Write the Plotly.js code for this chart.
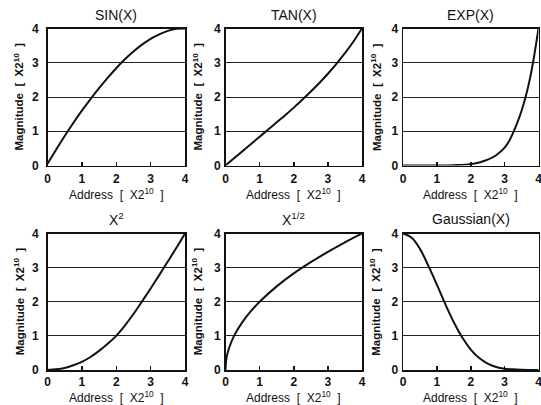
<!DOCTYPE html>
<html>
<head>
<meta charset="utf-8">
<script src="https://cdn.plot.ly/plotly-3.0.1.min.js"></script>
<style>html,body{margin:0;padding:0;background:#fff;}#chart{width:541px;height:405px;}</style>
</head>
<body>
<div id="chart"></div>
<script>
// Panel titles
const titles = ["SIN(X)", "TAN(X)", "EXP(X)", "X<sup>2</sup>", "X<sup>1/2</sup>", "Gaussian(X)"];
const xAxisTitle = "Address  [  X2<sup>10</sup>  ]";
const yAxisTitle = "Magnitude  [  X2<sup>10</sup>  ]";
const tickVals = [0, 1, 2, 3, 4];
const tickLabels = ["0", "1", "2", "3", "4"];

// Series values (address, magnitude), both in units of 2^10
const sinX = [0, 0.25, 0.5, 0.75, 1, 1.25, 1.5, 1.75, 2, 2.25, 2.5, 2.75, 3, 3.25, 3.5, 3.75, 4];
const sinY = [0.05, 0.46, 0.86, 1.24, 1.6, 1.94, 2.26, 2.56, 2.84, 3.1, 3.33, 3.53, 3.7, 3.83, 3.93, 3.99, 4.0];

const tanX = [0, 0.25, 0.5, 0.75, 1, 1.25, 1.5, 1.75, 2, 2.25, 2.5, 2.75, 3, 3.25, 3.5, 3.75, 4];
const tanY = [0, 0.21, 0.42, 0.63, 0.84, 1.05, 1.26, 1.47, 1.69, 1.92, 2.16, 2.41, 2.68, 2.97, 3.28, 3.62, 4.0];

const expX = [0, 0.5, 1, 1.5, 2, 2.25, 2.5, 2.75, 3, 3.125, 3.25, 3.375, 3.5, 3.625, 3.75, 3.875, 4];
const expY = [0, 0, 0, 0.01, 0.04, 0.09, 0.17, 0.3, 0.52, 0.7, 0.95, 1.25, 1.6, 2.02, 2.55, 3.22, 4.0];

const sqX = [0, 0.25, 0.5, 0.75, 1, 1.25, 1.5, 1.75, 2, 2.25, 2.5, 2.75, 3, 3.25, 3.5, 3.75, 4];
const sqY = [0, 0.02, 0.06, 0.14, 0.24, 0.38, 0.56, 0.77, 1.0, 1.3, 1.64, 2.01, 2.39, 2.78, 3.18, 3.58, 4.0];

const rtX = [0, 0.02, 0.05, 0.1, 0.25, 0.5, 0.75, 1, 1.5, 2, 2.5, 3, 3.5, 4];
const rtY = [0, 0.28, 0.45, 0.63, 1.0, 1.41, 1.73, 2.0, 2.45, 2.83, 3.16, 3.46, 3.74, 4.0];

const gaX = [0, 0.25, 0.5, 0.75, 1, 1.25, 1.5, 1.75, 2, 2.25, 2.5, 2.75, 3, 3.25, 3.5, 4];
const gaY = [4.0, 3.88, 3.55, 3.05, 2.5, 1.93, 1.4, 0.95, 0.6, 0.35, 0.19, 0.09, 0.04, 0.02, 0.01, 0];

const seriesX = [sinX, tanX, expX, sqX, rtX, gaX];
const seriesY = [sinY, tanY, expY, sqY, rtY, gaY];

const W = 541, H = 405;
// plot-area pixel boxes [left, right] and [top, bottom]
const colPx = [[47.5, 185], [225.5, 362], [403, 538.5]];
const rowPx = [[28.5, 165.5], [233.5, 370]];
const yTitleX = [[18.5, 197.5, 376], [18.5, 196.5, 375]];

const traces = [];
const layout = {
  width: W, height: H,
  margin: {l: 0, r: 0, t: 0, b: 0},
  paper_bgcolor: "#fff", plot_bgcolor: "#fff",
  showlegend: false,
  font: {family: "Liberation Sans, Arial, sans-serif", color: "#111"},
  annotations: []
};

for (let i = 0; i < 6; i++) {
  const r = Math.floor(i / 3), c = i % 3;
  const n = i + 1;
  const xa = n === 1 ? "xaxis" : "xaxis" + n;
  const ya = n === 1 ? "yaxis" : "yaxis" + n;
  const xr = n === 1 ? "x" : "x" + n;
  const yr = n === 1 ? "y" : "y" + n;
  traces.push({
    x: seriesX[i], y: seriesY[i], type: "scatter", mode: "lines",
    line: {color: "#111", width: 2, shape: "spline", smoothing: 1},
    xaxis: xr, yaxis: yr, hoverinfo: "skip", cliponaxis: true
  });
  layout[xa] = {
    domain: [colPx[c][0] / W, colPx[c][1] / W],
    anchor: yr, range: [0, 4], fixedrange: true,
    tickvals: tickVals, ticktext: tickLabels,
    ticks: "inside", ticklen: 4, tickwidth: 1.5, tickcolor: "#111",
    showgrid: false, zeroline: false,
    showline: true, mirror: true, linecolor: "#111", linewidth: 1.5,
    tickfont: {size: 12, family: "Liberation Sans, Arial, sans-serif", weight: "bold", color: "#111"},
    ticklabelstandoff: r === 0 ? 2 : 0,
    ticklabeloverflow: "allow"
  };
  layout[ya] = {
    domain: [1 - rowPx[r][1] / H, 1 - rowPx[r][0] / H],
    anchor: xr, range: [0, 4], fixedrange: true,
    tickvals: tickVals, ticktext: tickLabels,
    ticks: "", showgrid: true, gridcolor: "#222", gridwidth: 1,
    zeroline: false,
    showline: true, mirror: true, linecolor: "#111", linewidth: 1.5,
    tickfont: {size: 12, family: "Liberation Sans, Arial, sans-serif", weight: "bold", color: "#111"},
    ticklabelstandoff: c === 0 ? 5 : 1
  };
  const cx = (colPx[c][0] + colPx[c][1]) / 2 / W;
  // panel title
  layout.annotations.push({
    text: titles[i], xref: "paper", yref: "paper",
    x: cx, y: 1 - (r === 0 ? 15 : 219) / H, xanchor: "center", yanchor: "middle",
    showarrow: false, font: {size: 14, color: "#111"}
  });
  // x axis title
  layout.annotations.push({
    text: xAxisTitle, xref: "paper", yref: "paper",
    x: cx, y: 1 - (r === 0 ? 194 : 396.5) / H, xanchor: "center", yanchor: "middle",
    showarrow: false, font: {size: 12, color: "#111"}
  });
  // y axis title
  layout.annotations.push({
    text: yAxisTitle, xref: "paper", yref: "paper", textangle: -90,
    x: yTitleX[r][c] / W, y: 1 - (rowPx[r][0] + rowPx[r][1]) / 2 / H,
    xanchor: "center", yanchor: "middle",
    showarrow: false, font: {size: 11.5, color: "#111", weight: "bold"}
  });
}

Plotly.newPlot("chart", traces, layout, {staticPlot: true, displayModeBar: false});
</script>
</body>
</html>
